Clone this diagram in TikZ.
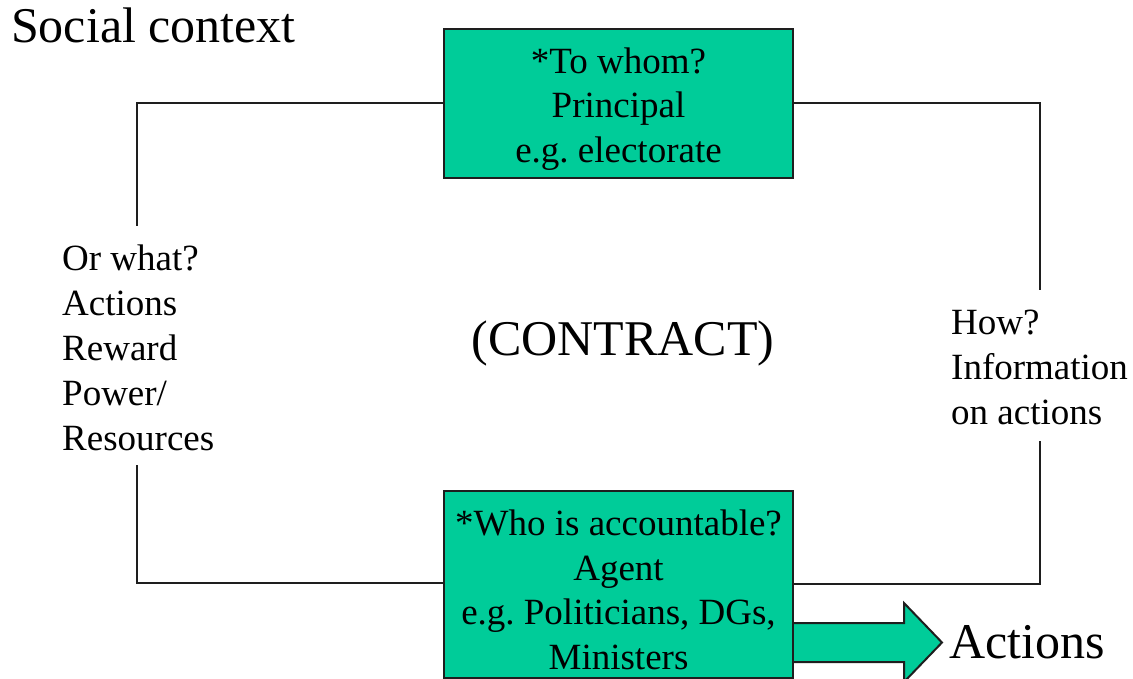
\documentclass[tikz,border=0pt]{standalone}
\usepackage{fontspec}
\setmainfont{Liberation Serif}
\usetikzlibrary{calc}
\definecolor{boxgreen}{RGB}{0,204,153}
\definecolor{linegray}{RGB}{30,30,30}
\frenchspacing
\tikzset{
  greenbox/.style={draw=linegray, line width=2pt, fill=boxgreen, minimum width=349pt, inner sep=0pt, align=center, font=\fontsize{37}{44.5}\selectfont\frenchspacing},
  sidetext/.style={inner sep=0pt, align=left, font=\fontsize{37}{45}\selectfont},
  bigtext/.style={inner sep=0pt, font=\fontsize{50}{60}\selectfont},
  link/.style={draw=linegray, line width=2pt},
}
\begin{document}
\begin{tikzpicture}[x=1pt,y=-1pt]
\useasboundingbox (0,0) rectangle (1133,679);
% boxes
\node[greenbox, minimum height=149pt] (principal) at (618.5,103.5) {\rule{0pt}{36pt}*To whom?\\Principal\\e.g. electorate};
\node[greenbox, minimum height=187pt] (agent) at (618.5,584.5) {\rule{0pt}{36pt}*Who is accountable?\\Agent\\e.g. Politicians, DGs,\\Ministers};
% texts
\node[bigtext, anchor=base west] (social) at (11,43) {Social context};
\node[bigtext, anchor=base] (contract) at (623,355) {(CONTRACT)};
\node[bigtext, anchor=base west] (actions) at (949,658) {Actions};
\node[sidetext, anchor=base west] (orwhat) at (62,450) {Or what?\\Actions\\Reward\\Power/\\Resources};
\node[sidetext, anchor=base west] (how) at (951,424) {How?\\Information\\on actions};
% free ends of the connectors
\coordinate (lt) at (137,226);
\coordinate (lb) at (137,465);
\coordinate (rt) at (1040,290);
\coordinate (rb) at (1040,441);
% connectors
\draw[link] (principal.west) -| (lt);
\draw[link] (lb) |- (agent.west |- 0,583);
\draw[link] (principal.east) -| (rt);
\draw[link] (rb) |- (agent.east |- 0,584);
% big arrow from agent to actions
\coordinate (as) at ($(agent.east |- 0,642.5)$);
\coordinate (tip) at ($(actions.west |- 0,642.5)+(-7,0)$);
\fill[boxgreen] ($(as)+(0,-19.5)$) -- ($(tip)+(-38,-19.5)$) -- ($(tip)+(-38,-39.5)$) -- (tip) -- ($(tip)+(-38,39.5)$) -- ($(tip)+(-38,19.5)$) -- ($(as)+(0,19.5)$) -- cycle;
\draw[link, line join=miter] ($(as)+(0,-19.5)$) -- ($(tip)+(-38,-19.5)$) -- ($(tip)+(-38,-39.5)$) -- (tip) -- ($(tip)+(-38,39.5)$) -- ($(tip)+(-38,19.5)$) -- ($(as)+(0,19.5)$);
\end{tikzpicture}
\end{document}
